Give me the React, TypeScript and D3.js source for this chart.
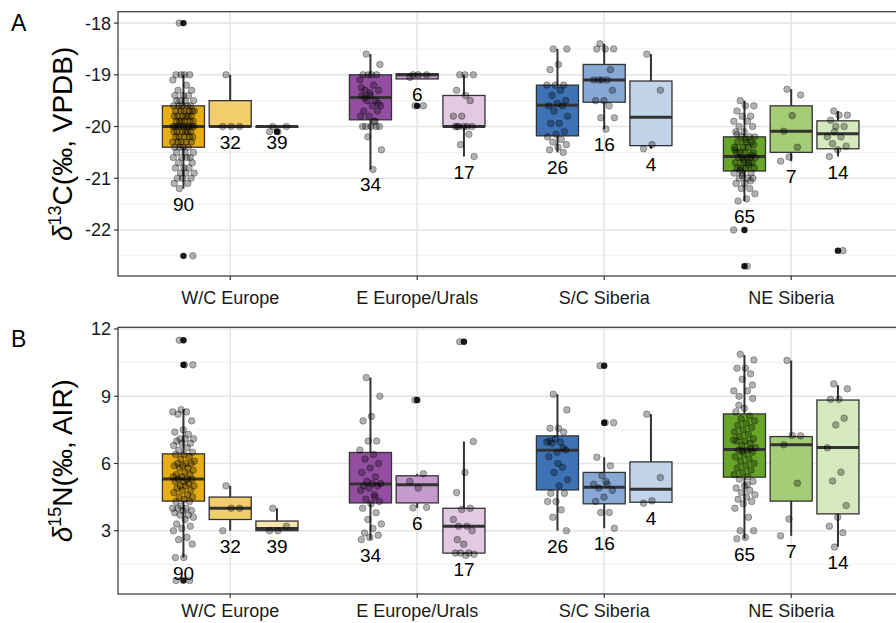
import React from 'react';
import * as d3 from 'd3';

const regions = ['W/C Europe', 'E Europe/Urals', 'S/C Siberia', 'NE Siberia'];
const subgroups = [0, 1, 2];
const counts = [90, 32, 39, 34, 6, 17, 26, 16, 4, 65, 7, 14];
const fills = [
  '#E6A800', '#F0CA5E', '#F7E2A6',
  '#8A3F9A', '#C192C9', '#DFC5E0',
  '#2D66AF', '#7EA2D2', '#BDD0E8',
  '#5A9E16', '#9DC86A', '#D3E6B8',
];

// box stats: [lower whisker, q1, median, q3, upper whisker]
const carbonBoxes = [
  [-21.2, -20.4, -20.0, -19.6, -19.0],
  [-20.0, -20.0, -20.0, -19.5, -19.0],
  [-20.0, -20.0, -20.0, -20.0, -20.0],
  [-20.83, -19.87, -19.44, -19.0, -18.6],
  [-19.08, -19.08, -19.0, -18.98, -18.98],
  [-20.58, -20.0, -20.0, -19.4, -19.0],
  [-20.5, -20.18, -19.59, -19.2, -18.5],
  [-20.05, -19.53, -19.1, -18.8, -18.4],
  [-20.43, -20.37, -19.82, -19.12, -18.6],
  [-21.44, -20.86, -20.58, -20.2, -19.5],
  [-20.67, -20.5, -20.09, -19.6, -19.28],
  [-20.58, -20.43, -20.14, -19.89, -19.7],
];
const carbonOutliers = [[-18.0, -22.5], [], [-20.1], [], [-19.6], [], [], [], [], [-22.0, -22.7], [], [-22.4]];
const carbonPoints = [
  [-18.0, -22.5, -19.0, -19.0, -19.0, -19.0, -19.1, -19.2, -19.3, -19.3, -19.4, -19.4, -19.4, -19.5, -19.5, -19.5, -19.5,
    -19.6, -19.6, -19.6, -19.6, -19.6, -19.7, -19.7, -19.7, -19.7, -19.7, -19.7, -19.8, -19.8, -19.8, -19.8, -19.8, -19.8,
    -19.9, -19.9, -19.9, -19.9, -19.9, -19.9, -20.0, -20.0, -20.0, -20.0, -20.0, -20.0, -20.0, -20.0, -20.0,
    -20.1, -20.1, -20.1, -20.1, -20.1, -20.1, -20.2, -20.2, -20.2, -20.2, -20.2, -20.3, -20.3, -20.3, -20.3, -20.3,
    -20.4, -20.4, -20.4, -20.4, -20.5, -20.5, -20.5, -20.6, -20.6, -20.6, -20.6, -20.7, -20.7, -20.8, -20.8, -20.8,
    -20.9, -20.9, -20.9, -21.0, -21.0, -21.0, -21.1, -21.1, -21.2],
  [-19.0, -20.0, -20.0, -20.0],
  [-20.0, -20.0, -20.1, -20.1],
  [-18.6, -18.8, -19.0, -19.0, -19.0, -19.0, -19.1, -19.2, -19.3, -19.3, -19.4, -19.4, -19.5, -19.5, -19.6, -19.6, -19.7,
    -19.7, -19.8, -19.8, -19.9, -20.0, -20.0, -20.0, -20.0, -20.0, -20.2, -20.45, -20.83, -19.45, -19.55, -19.35, -19.25, -19.9],
  [-19.0, -19.0, -19.0, -19.05, -19.6, -19.6],
  [-19.0, -19.0, -19.0, -19.3, -19.5, -19.8, -19.8, -20.0, -20.0, -20.0, -20.0, -20.0, -20.15, -20.35, -20.58, -19.4, -20.0],
  [-18.5, -18.5, -18.8, -18.9, -19.2, -19.2, -19.2, -19.3, -19.4, -19.5, -19.55, -19.6, -19.6, -19.7, -19.8, -19.94, -19.94,
    -20.1, -20.15, -20.2, -20.25, -20.3, -20.35, -20.4, -20.45, -20.5],
  [-18.4, -18.5, -18.5, -18.5, -18.9, -19.1, -19.1, -19.1, -19.1, -19.3, -19.5, -19.5, -19.6, -19.83, -19.83, -20.05],
  [-18.6, -19.3, -20.35, -20.43],
  [-19.5, -19.6, -19.6, -19.7, -19.8, -19.8, -19.9, -19.9, -20.0, -20.0, -20.1, -20.1, -20.2, -20.2, -20.2, -20.3, -20.3,
    -20.3, -20.4, -20.4, -20.4, -20.5, -20.5, -20.5, -20.5, -20.6, -20.6, -20.6, -20.6, -20.6, -20.7, -20.7, -20.7, -20.7,
    -20.8, -20.8, -20.8, -20.8, -20.9, -20.9, -20.9, -21.0, -21.0, -21.0, -21.1, -21.1, -21.2, -21.2, -21.3, -21.4, -21.44,
    -20.55, -20.65, -20.45, -20.75, -20.85, -20.35, -20.25, -20.15, -21.05, -20.95, -22.0, -22.7],
  [-19.28, -19.39, -19.79, -20.09, -20.4, -20.59, -20.67],
  [-19.7, -19.78, -19.78, -19.88, -20.0, -20.0, -20.2, -20.2, -20.33, -20.38, -20.45, -20.58, -22.4, -20.1],
];

const nitrogenBoxes = [
  [1.8, 4.32, 5.31, 6.43, 8.42],
  [3.0, 3.5, 4.0, 4.5, 5.0],
  [3.0, 3.0, 3.1, 3.43, 4.0],
  [2.6, 4.24, 5.08, 6.49, 9.83],
  [4.02, 4.24, 5.05, 5.45, 5.54],
  [1.95, 2.0, 3.2, 4.0, 6.98],
  [3.0, 4.82, 6.59, 7.23, 9.09],
  [3.11, 4.2, 4.94, 5.6, 6.28],
  [4.23, 4.27, 4.85, 6.07, 8.2],
  [2.64, 5.39, 6.62, 8.21, 10.84],
  [2.77, 4.32, 6.83, 7.2, 10.59],
  [2.29, 3.75, 6.71, 8.83, 9.49],
];
const nitrogenOutliers = [[11.5, 10.4, 0.78], [], [], [], [8.83], [11.43], [], [10.36, 7.82], [], [], [], []];
const nitrogenPoints = [
  [11.5, 10.4, 10.4, 0.78, 0.78, 8.4, 8.3, 8.3, 8.2, 7.9, 7.5, 7.4, 7.3, 7.1, 7.1, 7.1, 7.0, 6.9, 6.9, 6.8, 6.7, 6.6, 6.5,
    6.4, 6.4, 6.3, 6.2, 6.1, 6.0, 6.0, 6.0, 5.9, 5.9, 5.8, 5.8, 5.7, 5.6, 5.5, 5.5, 5.4, 5.4, 5.3, 5.3, 5.3, 5.2, 5.2, 5.1,
    5.0, 5.0, 5.0, 4.9, 4.8, 4.8, 4.7, 4.6, 4.5, 4.5, 4.4, 4.3, 4.3, 4.1, 4.0, 4.0, 4.0, 3.9, 3.9, 3.8, 3.7, 3.7, 3.6, 3.5,
    3.3, 3.2, 3.1, 3.0, 2.7, 2.6, 2.4, 1.8, 1.8],
  [5.0, 4.0, 4.0, 3.0],
  [4.0, 3.2, 3.0, 3.0],
  [9.83, 9.0, 8.1, 7.9, 7.0, 7.0, 6.6, 6.4, 6.2, 6.0, 5.8, 5.6, 5.4, 5.2, 5.1, 5.1, 5.0, 5.0, 4.9, 4.8, 4.6, 4.4, 4.3, 4.2,
    4.0, 3.8, 3.5, 3.3, 3.1, 2.9, 2.8, 2.7, 2.6, 4.5],
  [4.02, 4.04, 4.9, 5.2, 5.54, 8.83],
  [11.43, 6.98, 5.6, 4.7, 4.0, 3.95, 3.5, 3.2, 3.2, 3.0, 2.4, 2.0, 2.0, 2.0, 1.95, 1.9, 2.6],
  [9.09, 8.39, 7.57, 7.57, 7.4, 7.1, 6.95, 6.95, 6.9, 6.6, 6.5, 6.3, 5.83, 5.6, 5.27, 5.0, 4.67, 4.67, 4.3, 4.3, 3.93, 3.6,
    3.0, 6.0, 7.0, 6.7],
  [10.36, 7.82, 7.82, 6.28, 5.9, 5.45, 5.07, 5.07, 4.9, 4.8, 4.5, 4.3, 3.81, 3.81, 3.11, 5.2],
  [8.2, 5.37, 4.33, 4.23],
  [10.87, 10.62, 10.25, 10.25, 10.0, 9.76, 9.24, 9.24, 9.0, 8.9, 8.46, 8.3, 8.12, 8.0, 7.9, 7.8, 7.7, 7.6, 7.5, 7.4, 7.3,
    7.2, 7.1, 7.0, 7.0, 6.9, 6.8, 6.7, 6.6, 6.6, 6.5, 6.4, 6.3, 6.2, 6.1, 6.0, 5.9, 5.8, 5.7, 5.6, 5.5, 5.4, 5.3, 5.2, 5.0,
    4.9, 4.8, 4.7, 4.6, 4.5, 4.4, 4.3, 4.2, 4.0, 3.6, 3.0, 3.0, 2.7, 2.64, 6.65, 6.55, 7.05, 5.05, 8.6, 9.5],
  [10.6, 7.23, 7.25, 6.83, 5.12, 3.52, 2.77],
  [9.55, 9.33, 8.86, 8.86, 8.02, 7.72, 6.7, 5.61, 5.22, 4.12, 3.6, 3.2, 2.91, 2.27],
];

const carbonTicks = [-22, -21, -20, -19, -18];
const carbonMinor = [-22.5, -21.5, -20.5, -19.5, -18.5];
const nitrogenTicks = [3, 6, 9, 12];
const nitrogenMinor = [1.5, 4.5, 7.5, 10.5];

const FONT = '"Liberation Sans", Arial, Helvetica, sans-serif';
const PLOT_LEFT = 118;
const PLOT_RIGHT = 903.4;

const x = d3.scaleBand<string>().domain(regions).range([PLOT_LEFT, PLOT_RIGHT]).paddingInner(0).paddingOuter(0.1);
const dodge = d3.scaleBand<number>().domain(subgroups).range([-0.375 * x.step(), 0.375 * x.step()]);
const boxW = dodge.bandwidth() * 0.9;

// deterministic horizontal spread for the jittered points
const jitter = (i: number) => (((i * 0.6180339887 + 0.31) % 1) - 0.5) * 22;

function boxCenter(k: number) {
  const r = regions[Math.floor(k / 3)];
  return (x(r) as number) + x.bandwidth() / 2 + (dodge(k % 3) as number) + dodge.bandwidth() / 2;
}

function Panel({ top, bottom, domain, ticks, minor, boxes, outliers, points, letter, letterY, labelY, title }: any) {
  const y = d3.scaleLinear().domain(domain).range([bottom, top]);
  return (
    <g>
      <text x={11} y={letterY} fontSize={23} fill="#000">{letter}</text>
      {minor.map((t: number) => (
        <line key={'mi' + t} x1={PLOT_LEFT} x2={PLOT_RIGHT} y1={y(t)} y2={y(t)} stroke="#EBEBEB" strokeWidth={0.8} />
      ))}
      {ticks.map((t: number) => (
        <line key={'ma' + t} x1={PLOT_LEFT} x2={PLOT_RIGHT} y1={y(t)} y2={y(t)} stroke="#E5E5E5" strokeWidth={1.6} />
      ))}
      {regions.map((r) => (
        <line key={'v' + r} x1={(x(r) as number) + x.bandwidth() / 2} x2={(x(r) as number) + x.bandwidth() / 2}
          y1={top} y2={bottom} stroke="#E5E5E5" strokeWidth={1.6} />
      ))}
      {boxes.map((b: number[], k: number) => {
        const cx = boxCenter(k);
        const [lo, q1, med, q3, hi] = b;
        return (
          <g key={'b' + k}>
            <line x1={cx} x2={cx} y1={y(q3)} y2={y(hi)} stroke="#333" strokeWidth={2} />
            <line x1={cx} x2={cx} y1={y(q1)} y2={y(lo)} stroke="#333" strokeWidth={2} />
            <rect x={cx - boxW / 2} y={y(q3)} width={boxW} height={Math.max(y(q1) - y(q3), 0.5)}
              fill={fills[k]} fillOpacity={0.92} stroke="#333" strokeWidth={1.3} />
            <line x1={cx - boxW / 2} x2={cx + boxW / 2} y1={y(med)} y2={y(med)} stroke="#333" strokeWidth={3} />
            {outliers[k].map((v: number, i: number) => (
              <circle key={'o' + i} cx={cx} cy={y(v)} r={3.2} fill="#1a1a1a" />
            ))}
          </g>
        );
      })}
      {points.map((vals: number[], k: number) => {
        const cx = boxCenter(k);
        return vals.map((v, i) => (
          <circle key={'p' + k + '-' + i} cx={cx + jitter(i)} cy={y(v)} r={3.3}
            fill="#000" fillOpacity={0.3} stroke="#000" strokeOpacity={0.3} strokeWidth={1} />
        ));
      })}
      {boxes.map((b: number[], k: number) => (
        <text key={'n' + k} x={boxCenter(k)} y={y(b[0]) + 22} textAnchor="middle" fontSize={19} fill="#000">
          {counts[k]}
        </text>
      ))}
      <rect x={PLOT_LEFT} y={top} width={PLOT_RIGHT - PLOT_LEFT} height={bottom - top} fill="none" stroke="#333" strokeWidth={1.2} />
      {ticks.map((t: number) => (
        <g key={'t' + t}>
          <line x1={PLOT_LEFT - 4} x2={PLOT_LEFT} y1={y(t)} y2={y(t)} stroke="#333" strokeWidth={1.2} />
          <text x={PLOT_LEFT - 7} y={y(t)} dy="0.36em" textAnchor="end" fontSize={18} fill="#1a1a1a">{t}</text>
        </g>
      ))}
      {regions.map((r) => {
        const cx = (x(r) as number) + x.bandwidth() / 2;
        return (
          <g key={'xt' + r}>
            <line x1={cx} x2={cx} y1={bottom} y2={bottom + 4} stroke="#333" strokeWidth={1.2} />
            <text x={cx} y={labelY} textAnchor="middle" fontSize={18} fill="#1a1a1a">{r}</text>
          </g>
        );
      })}
      <text transform={`translate(72,${(top + bottom) / 2}) rotate(-90)`} textAnchor="middle" fontSize={28} fill="#000">
        <tspan fontStyle="italic">δ</tspan>
        <tspan dy={-11} fontSize={18}>{title.sup}</tspan>
        <tspan dy={11}>{title.text}</tspan>
      </text>
    </g>
  );
}

export default function App() {
  return (
    <svg width={896} height={623} style={{ position: 'absolute', left: 0, top: 0, background: '#fff' }} fontFamily={FONT}>
      <rect width={896} height={623} fill="#fff" />
      <Panel top={11.7} bottom={276} domain={[-22.89, -17.78]} ticks={carbonTicks} minor={carbonMinor}
        boxes={carbonBoxes} outliers={carbonOutliers} points={carbonPoints} letter="A" letterY={31} labelY={304}
        title={{ sup: '13', text: 'C(‰, VPDB)' }} />
      <Panel top={327.3} bottom={594} domain={[0.175, 12.076]} ticks={nitrogenTicks} minor={nitrogenMinor}
        boxes={nitrogenBoxes} outliers={nitrogenOutliers} points={nitrogenPoints} letter="B" letterY={347} labelY={617}
        title={{ sup: '15', text: 'N(‰, AIR)' }} />
    </svg>
  );
}
